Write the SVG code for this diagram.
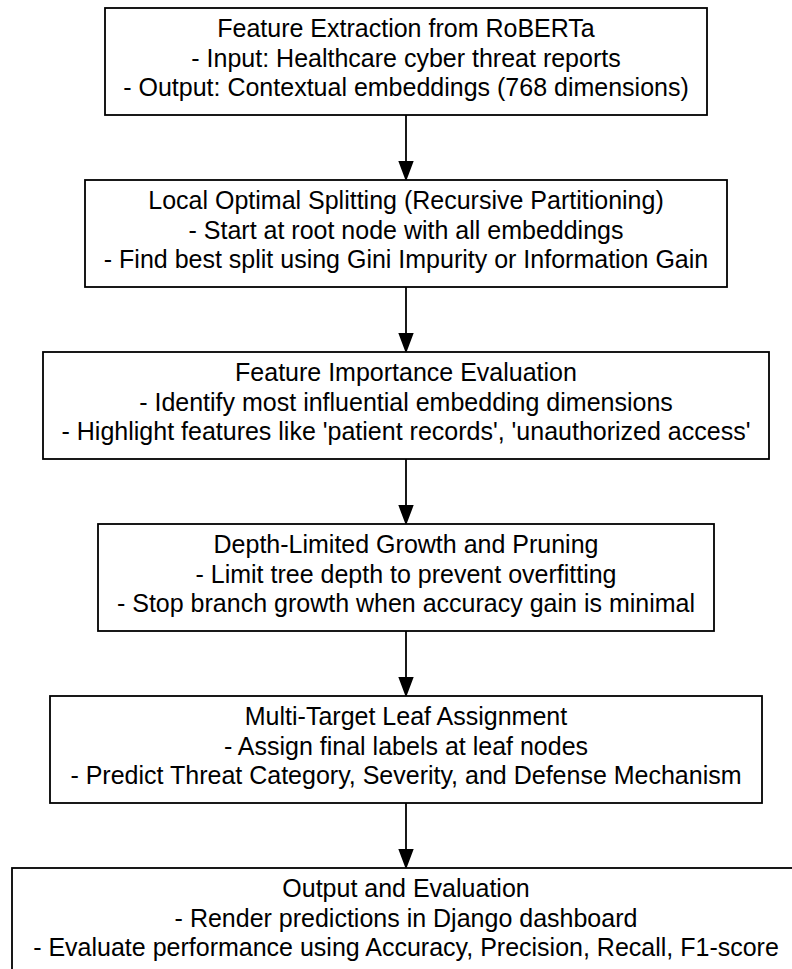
<svg xmlns="http://www.w3.org/2000/svg" width="792" height="969" viewBox="0 0 792 969">
<style>
.box{fill:#fff;stroke:#000;stroke-width:1.8}
.t{font-family:"Liberation Sans",Arial,sans-serif;font-size:25px;fill:#000;text-anchor:middle}
.e{stroke:#000;stroke-width:1.8;fill:none}
.h{fill:#000;stroke:#000;stroke-width:1.8}
</style>
<rect width="792" height="969" fill="#fff"/>
<g id="connectors">
<line class="e" x1="406" y1="115" x2="406" y2="162"/><polygon class="h" points="399.6,162 412.4,162 406,179"/>
<line class="e" x1="406" y1="287" x2="406" y2="334"/><polygon class="h" points="399.6,334 412.4,334 406,351"/>
<line class="e" x1="406" y1="459" x2="406" y2="506"/><polygon class="h" points="399.6,506 412.4,506 406,523"/>
<line class="e" x1="406" y1="631" x2="406" y2="678"/><polygon class="h" points="399.6,678 412.4,678 406,695"/>
<line class="e" x1="406" y1="803" x2="406" y2="850"/><polygon class="h" points="399.6,850 412.4,850 406,867"/>
</g>
<g id="n1">
<rect class="box" x="105" y="8" width="602" height="107"/>
<text class="t" x="406" y="37">Feature Extraction from RoBERTa</text>
<text class="t" x="406" y="66.5">- Input: Healthcare cyber threat reports</text>
<text class="t" x="406" y="96">- Output: Contextual embeddings (768 dimensions)</text>
</g>
<g id="n2">
<rect class="box" x="85" y="180" width="642" height="107"/>
<text class="t" x="406" y="209">Local Optimal Splitting (Recursive Partitioning)</text>
<text class="t" x="406" y="238.5">- Start at root node with all embeddings</text>
<text class="t" x="406" y="268">- Find best split using Gini Impurity or Information Gain</text>
</g>
<g id="n3">
<rect class="box" x="43" y="352" width="726" height="107"/>
<text class="t" x="406" y="381">Feature Importance Evaluation</text>
<text class="t" x="406" y="410.5">- Identify most influential embedding dimensions</text>
<text class="t" x="406" y="440">- Highlight features like 'patient records', 'unauthorized access'</text>
</g>
<g id="n4">
<rect class="box" x="98" y="524" width="616" height="107"/>
<text class="t" x="406" y="553">Depth-Limited Growth and Pruning</text>
<text class="t" x="406" y="582.5">- Limit tree depth to prevent overfitting</text>
<text class="t" x="406" y="612">- Stop branch growth when accuracy gain is minimal</text>
</g>
<g id="n5">
<rect class="box" x="50" y="696" width="712" height="107"/>
<text class="t" x="406" y="725">Multi-Target Leaf Assignment</text>
<text class="t" x="406" y="754.5">- Assign final labels at leaf nodes</text>
<text class="t" x="406" y="784">- Predict Threat Category, Severity, and Defense Mechanism</text>
</g>
<g id="n6">
<rect class="box" x="12" y="868" width="800" height="107"/>
<text class="t" x="406" y="897">Output and Evaluation</text>
<text class="t" x="406" y="926.5">- Render predictions in Django dashboard</text>
<text class="t" x="406" y="956">- Evaluate performance using Accuracy, Precision, Recall, F1-score</text>
</g>
</svg>
